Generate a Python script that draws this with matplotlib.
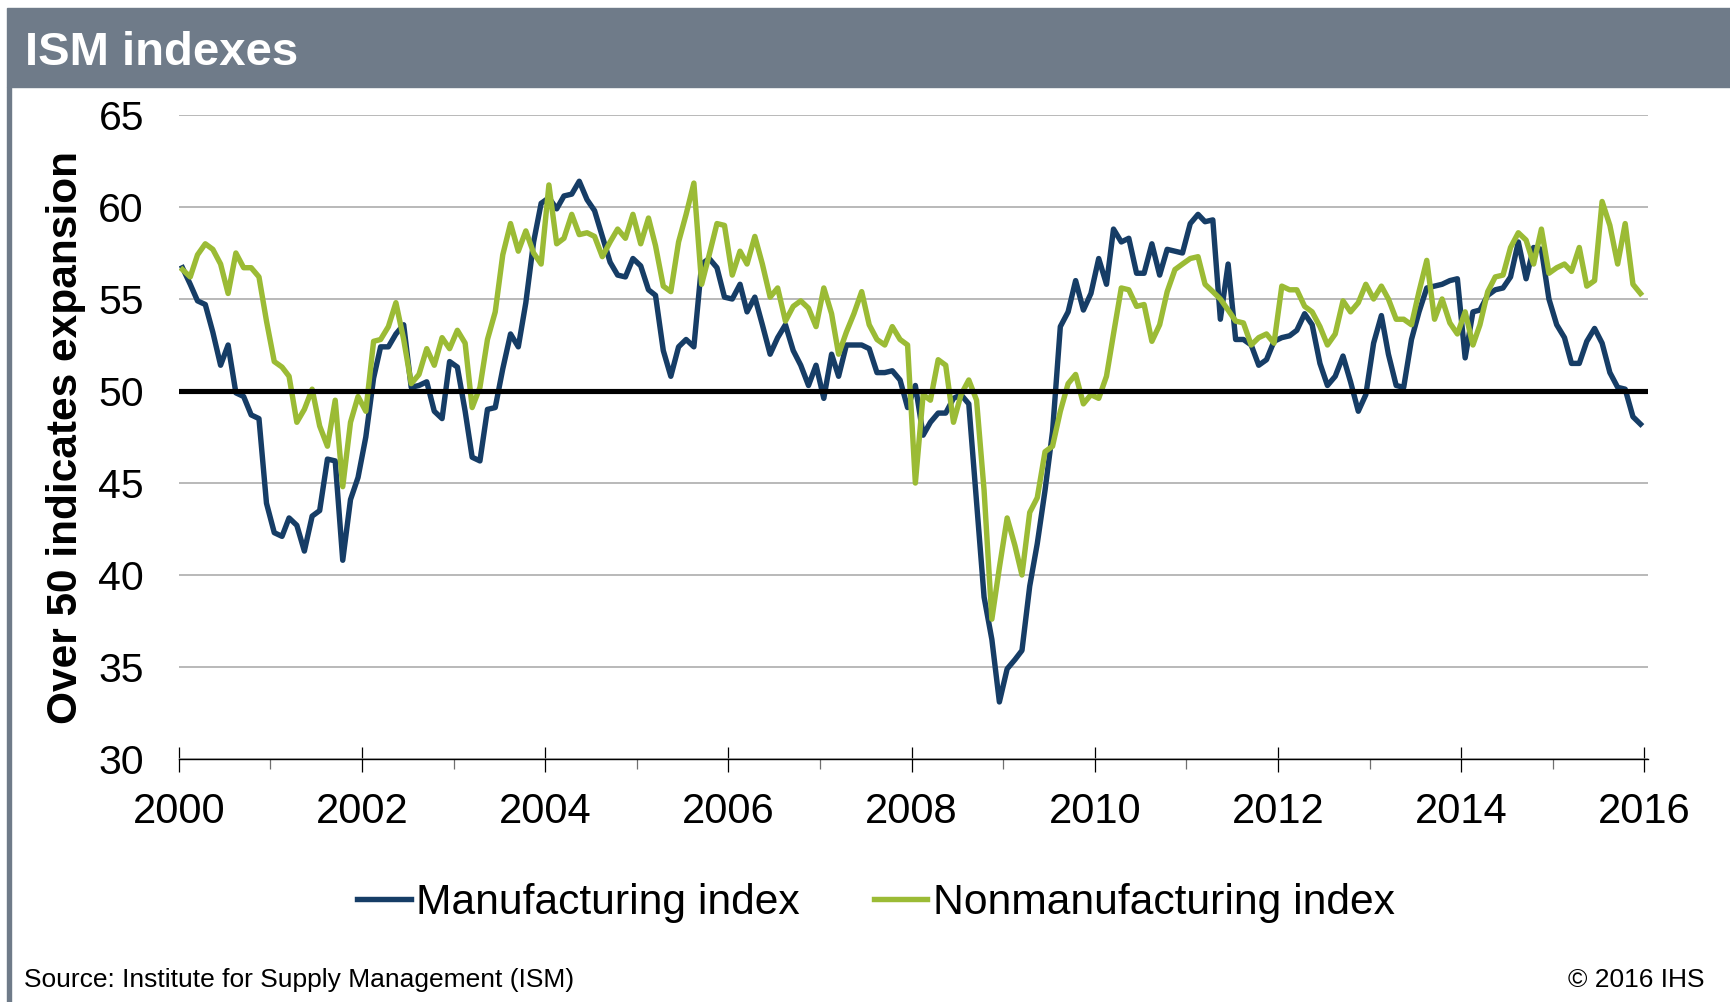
import numpy as np
import pandas as pd
import matplotlib
matplotlib.use('Agg')
from matplotlib import pyplot as plt
import matplotlib.dates as mdates
from matplotlib.patches import Rectangle

plt.rcParams['font.family'] = ['Liberation Sans', 'DejaVu Sans']

# monthly readings, Jan 2000 .. Dec 2015
manufacturing = [
    56.7, 55.8, 54.9, 54.7, 53.2, 51.4, 52.5, 49.9, 49.7, 48.7, 48.5, 43.9,  # 2000
    42.3, 42.1, 43.1, 42.7, 41.3, 43.2, 43.5, 46.3, 46.2, 40.8, 44.1, 45.3,  # 2001
    47.5, 50.7, 52.4, 52.4, 53.1, 53.6, 50.2, 50.3, 50.5, 48.9, 48.5, 51.6,  # 2002
    51.3, 48.9, 46.4, 46.2, 49.0, 49.1, 51.2, 53.1, 52.4, 54.8, 58.1, 60.2,  # 2003
    60.5, 59.9, 60.6, 60.7, 61.4, 60.4, 59.8, 58.4, 57.0, 56.3, 56.2, 57.2,  # 2004
    56.8, 55.5, 55.2, 52.2, 50.8, 52.4, 52.8, 52.4, 56.9, 57.2, 56.7, 55.1,  # 2005
    55.0, 55.8, 54.3, 55.1, 53.6, 52.0, 52.9, 53.6, 52.2, 51.4, 50.3, 51.4,  # 2006
    49.6, 52.0, 50.8, 52.5, 52.5, 52.5, 52.3, 51.0, 51.0, 51.1, 50.6, 49.1,  # 2007
    50.3, 47.6, 48.3, 48.8, 48.8, 49.6, 49.8, 49.3, 44.0, 38.8, 36.5, 33.1,  # 2008
    34.9, 35.4, 35.9, 39.4, 41.7, 44.6, 47.8, 53.5, 54.3, 56.0, 54.4, 55.3,  # 2009
    57.2, 55.8, 58.8, 58.1, 58.3, 56.4, 56.4, 58.0, 56.3, 57.7, 57.6, 57.5,  # 2010
    59.1, 59.6, 59.2, 59.3, 53.9, 56.9, 52.8, 52.8, 52.5, 51.4, 51.7, 52.7,  # 2011
    52.9, 53.0, 53.3, 54.2, 53.6, 51.5, 50.3, 50.8, 51.9, 50.5, 48.9, 49.8,  # 2012
    52.6, 54.1, 52.0, 50.3, 50.2, 52.8, 54.3, 55.6, 55.7, 55.8, 56.0, 56.1,  # 2013
    51.8, 54.3, 54.4, 55.2, 55.5, 55.6, 56.2, 58.1, 56.1, 57.8, 57.7, 55.0,  # 2014
    53.6, 52.9, 51.5, 51.5, 52.7, 53.4, 52.6, 51.0, 50.2, 50.1, 48.6, 48.2,  # 2015
]

nonmanufacturing = [
    56.6, 56.2, 57.4, 58.0, 57.7, 56.9, 55.3, 57.5, 56.7, 56.7, 56.2, 53.8,  # 2000
    51.6, 51.3, 50.8, 48.3, 49.0, 50.1, 48.1, 47.0, 49.5, 44.8, 48.3, 49.7,  # 2001
    48.9, 52.7, 52.8, 53.5, 54.8, 52.8, 50.4, 50.9, 52.3, 51.4, 52.9, 52.3,  # 2002
    53.3, 52.6, 49.1, 50.2, 52.8, 54.3, 57.4, 59.1, 57.6, 58.7, 57.5, 56.9,  # 2003
    61.2, 58.0, 58.3, 59.6, 58.5, 58.6, 58.4, 57.3, 58.1, 58.8, 58.3, 59.6,  # 2004
    58.0, 59.4, 57.9, 55.7, 55.4, 58.1, 59.6, 61.3, 55.8, 57.4, 59.1, 59.0,  # 2005
    56.3, 57.6, 56.9, 58.4, 56.9, 55.1, 55.6, 53.8, 54.6, 54.9, 54.5, 53.5,  # 2006
    55.6, 54.2, 52.0, 53.2, 54.2, 55.4, 53.6, 52.8, 52.5, 53.5, 52.8, 52.5,  # 2007
    45.0, 49.8, 49.5, 51.7, 51.4, 48.3, 49.8, 50.6, 49.5, 44.6, 37.6, 40.4,  # 2008
    43.1, 41.6, 40.0, 43.4, 44.2, 46.7, 47.0, 48.9, 50.4, 50.9, 49.3, 49.8,  # 2009
    49.6, 50.8, 53.1, 55.6, 55.5, 54.6, 54.7, 52.7, 53.6, 55.4, 56.6, 56.9,  # 2010
    57.2, 57.3, 55.8, 55.4, 55.0, 54.4, 53.8, 53.7, 52.5, 52.9, 53.1, 52.6,  # 2011
    55.7, 55.5, 55.5, 54.6, 54.3, 53.5, 52.5, 53.1, 54.9, 54.3, 54.8, 55.8,  # 2012
    55.0, 55.7, 55.0, 53.9, 53.9, 53.6, 55.4, 57.1, 53.9, 55.0, 53.7, 53.1,  # 2013
    54.3, 52.5, 53.6, 55.4, 56.2, 56.3, 57.8, 58.6, 58.2, 56.9, 58.8, 56.4,  # 2014
    56.7, 56.9, 56.5, 57.8, 55.7, 56.0, 60.3, 59.0, 56.9, 59.1, 55.8, 55.3,  # 2015
]

months = pd.date_range('2000-01-01', periods=len(manufacturing), freq='MS') + pd.Timedelta(days=15)

navy = '#163d66'
green = '#9bbb35'
header = '#6f7b89'

fig = plt.figure(figsize=(17.3, 10.02), dpi=100)

# header band and left rule
fig.patches.append(Rectangle((7 / 1730, 1 - 87 / 1002), 1, 79 / 1002,
                             transform=fig.transFigure, color=header, zorder=0))
fig.patches.append(Rectangle((7 / 1730, 0), 4 / 1730, 1 - 87 / 1002,
                             transform=fig.transFigure, color=header, zorder=0))
fig.text(25 / 1730, 1 - 65 / 1002, 'ISM indexes', color='white', fontsize=34,
         fontweight='bold', va='baseline', ha='left')

ax = fig.add_axes([178.7 / 1730, 1 - 759 / 1002, (1648 - 178.7) / 1730, (759 - 115) / 1002])
ax.plot(months, manufacturing, color=navy, lw=3.9, label='Manufacturing index',
        solid_joinstyle='round', zorder=3)
ax.plot(months, nonmanufacturing, color=green, lw=3.9, label='Nonmanufacturing index',
        solid_joinstyle='round', zorder=4)
ax.axhline(50, color='black', lw=3.7, zorder=5)

ax.set_ylim(30, 65)
ax.set_yticks(np.arange(30, 66, 5))
ax.set_xlim(pd.Timestamp('2000-01-01'), pd.Timestamp('2016-01-15'))
ax.xaxis.set_major_locator(mdates.YearLocator(2))
ax.xaxis.set_minor_locator(mdates.YearLocator(1))
ax.xaxis.set_major_formatter(mdates.DateFormatter('%Y'))

ax.grid(axis='y', color='#a6a6a6', lw=1.1, zorder=1)
for s in ['top', 'right', 'left']:
    ax.spines[s].set_visible(False)
ax.spines['bottom'].set_color('black')
ax.spines['bottom'].set_linewidth(1.0)
ax.spines['bottom'].set_zorder(2)

ax.tick_params(axis='y', length=0, pad=25, labelsize=29.5)
ax.tick_params(axis='x', which='major', direction='inout', length=18, width=0.9,
               pad=15, labelsize=30)
ax.tick_params(axis='x', which='minor', direction='out', length=7, width=0.9, color='#707070')

ax.set_ylabel('Over 50 indicates expansion', fontsize=30.5, fontweight='bold')
ax.yaxis.set_label_coords((86 - 178.7) / (1648 - 178.7), (759 - 438) / (759 - 115))

fig.legend(*ax.get_legend_handles_labels(), loc='center', ncol=2,
           bbox_to_anchor=(876 / 1730, 1 - 903 / 1002), frameon=False, fontsize=30.7,
           handlelength=1.25, handletextpad=0.12, columnspacing=1.75, borderpad=0)

fig.text(24 / 1730, 1 - 980 / 1002, 'Source: Institute for Supply Management (ISM)',
         fontsize=19, va='center', ha='left')
fig.text(1705 / 1730, 1 - 980 / 1002, '\u00a9 2016 IHS', fontsize=19, va='center', ha='right')

fig.savefig('out.png', dpi=100)
